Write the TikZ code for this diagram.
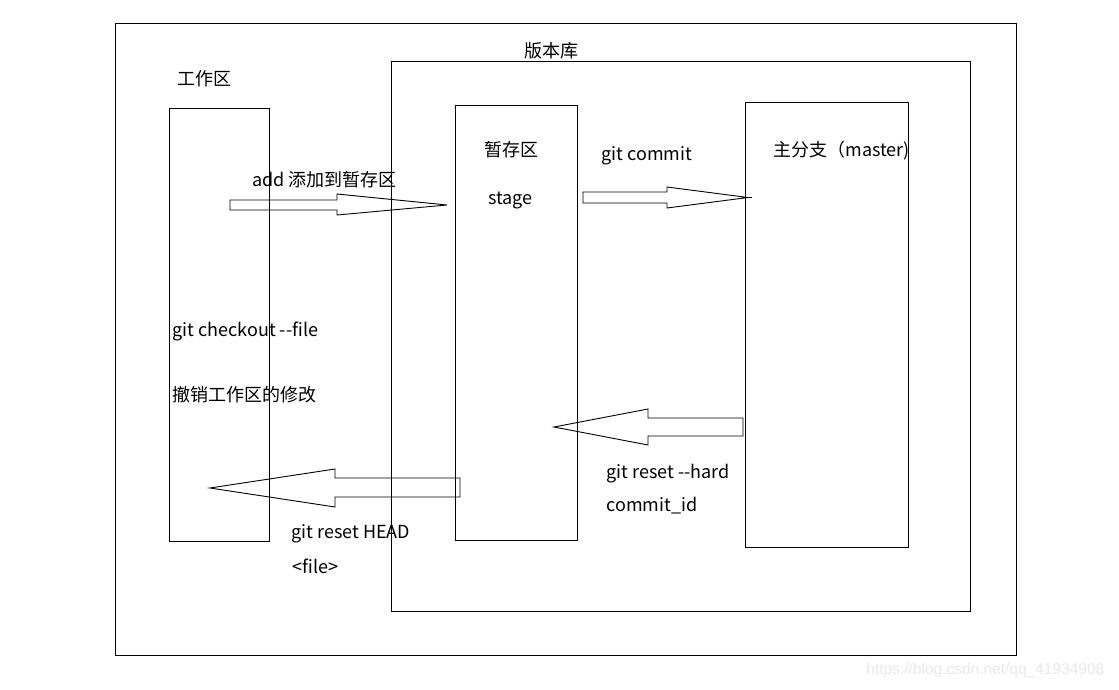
\documentclass[tikz,border=0pt]{standalone}
\usepackage{fontspec}
\setmainfont{Noto Sans CJK SC}
\begin{document}
\begin{tikzpicture}[x=1pt,y=-1pt,line width=0.9pt,
    lbl/.style={anchor=west,inner sep=0pt,font=\fontsize{18}{21}\selectfont},
    blk/.style={draw=black,line width=0.9pt,line join=miter}]
    \useasboundingbox (0,0) rectangle (1119,690);
    % frames
    \draw (115,23) rectangle (1016,655);
    \draw (391,61) rectangle (970,611);
    \draw (169,108) rectangle (269,541);
    \draw (455,105) rectangle (577,540);
    \draw (745,102) rectangle (908,547);
    % labels
    \node[lbl] (repo) at (524,51) {版本库};
    \node[lbl] (work) at (177,79) {工作区};
    \node[lbl] (stagecn) at (484,150) {暂存区};
    \node[lbl] (stage) at (488,200) {stage};
    \node[lbl] (commit) at (601,156) {git commit};
    \node[lbl] (master) at (773,151) {主分支（master)};
    \node[lbl] (add) at (252,180) {add 添加到暂存区};
    \node[lbl] (checkout) at (172,331) {git checkout -{}-file};
    \node[lbl] (undo) at (172,395) {撤销工作区的修改};
    \node[lbl] (hard) at (606,474) {git reset -{}-hard};
    \node[lbl] (cid) at (606,506) {commit\_id};
    \node[lbl] (head) at (291,534) {git reset HEAD};
    \node[lbl] (file) at (292,566) {<file>};
    \node[anchor=west,inner sep=0pt,text=black!9,font=\fontsize{15.5}{18}\selectfont\fontspec{Liberation Sans}] (mark) at (866,670) {https://blog.csdn.net/qq\_41934908};
    % block arrows
    \draw[blk] (230,200) -- (337,200) -- (337,194) -- (447,205) -- (337,215) -- (337,210) -- (230,210) -- cycle;
    \draw[blk] (583,192) -- (667,192) -- (667,187) -- (748,197.5) -- (667,208) -- (667,203) -- (583,203) -- cycle;
    \draw (745,197.5) -- (752,197.5);
    \draw[blk] (743,418) -- (648,418) -- (648,409) -- (554,427) -- (648,445) -- (648,436) -- (743,436) -- cycle;
    \draw[blk] (460,478) -- (335,478) -- (335,469) -- (210,488) -- (335,507) -- (335,497) -- (460,497) -- cycle;
\end{tikzpicture}
\end{document}
